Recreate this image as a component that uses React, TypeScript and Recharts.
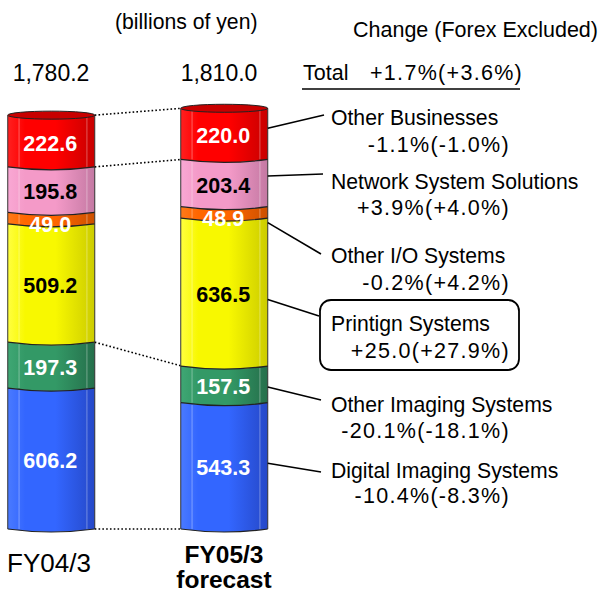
import React from "react";
import { BarChart, Bar, XAxis, YAxis } from "recharts";

// ---------- data ----------
const periods = ["FY04/3", "FY05/3"];
const periodNotes = ["", "forecast"];
const totals = [1780.2, 1810.0];
const totalLabels = ["1,780.2", "1,810.0"];
const segmentKeys = ["digital", "otherImaging", "printing", "otherIO", "network", "otherBiz"];
const segmentNames = [
  "Digital Imaging Systems",
  "Other Imaging Systems",
  "Printign Systems",
  "Other I/O Systems",
  "Network System Solutions",
  "Other Businesses",
];
const digitalImaging = [606.2, 543.3];
const otherImaging = [197.3, 157.5];
const printingSystems = [509.2, 636.5];
const otherIO = [49.0, 48.9];
const networkSolutions = [195.8, 203.4];
const otherBusinesses = [222.6, 220.0];
const segmentChanges = [
  "-10.4%(-8.3%)",
  "-20.1%(-18.1%)",
  "+25.0(+27.9%)",
  "-0.2%(+4.2%)",
  "+3.9%(+4.0%)",
  "-1.1%(-1.0%)",
];
const totalChange = "+1.7%(+3.6%)";
const unitLabel = "(billions of yen)";
const changeHeader = "Change (Forex Excluded)";

const series = [digitalImaging, otherImaging, printingSystems, otherIO, networkSolutions, otherBusinesses];

// ---------- styles / layout ----------
const FONT = "'Liberation Sans', Arial, sans-serif";
const segStyles = [
  { light: "#4a7aff", base: "#3366ff", dark: "#2548c8", text: "#ffffff" },
  { light: "#3fa774", base: "#339966", dark: "#256f4b", text: "#ffffff" },
  { light: "#ffff40", base: "#f8f800", dark: "#cccc00", text: "#000000" },
  { light: "#ff7a1a", base: "#ff6600", dark: "#cc5000", text: "#ffffff" },
  { light: "#f9a8d4", base: "#f49ac8", dark: "#c479a3", text: "#000000" },
  { light: "#ff2020", base: "#ff0000", dark: "#c80000", text: "#ffffff" },
];
const leaderFrac = [0.48, 0.57, 0.55, 1.4, 0.35, 0.39];
const leaderEnd = [
  [321, 472],
  [321, 400],
  [319, 316],
  [321, 254],
  [323, 174],
  [324, 115],
];
const nameBaselines = [478, 412, 331, 263, 189, 125];
const changeBaselines = [503, 438, 358, 290, 215, 152];

// ---------- rows ----------
const rows: any[] = [];
periods.forEach((p, i) => {
  const r: any = { name: p, total: totals[i] };
  segmentKeys.forEach((k, j) => (r[k] = series[j][i]));
  rows.push(r);
  if (i === 0) rows.push({ name: " " });
});

const cum = (col: number, upto: number) => {
  let s = 0;
  for (let j = 0; j < upto; j++) s += series[j][col];
  return s;
};

function Cylinder(props: any) {
  const { x, y, width: w, height: h, index, payload, segIdx } = props;
  if (!h || h <= 0 || w == null) return null;
  const st = segStyles[segIdx];
  const b = 3;
  const gid = `cyl-${segIdx}-${index}`;
  const body = `M${x},${y} Q${x + w / 2},${y + 2 * b} ${x + w},${y} L${x + w},${y + h} Q${x + w / 2},${y + h + 2 * b} ${x},${y + h} Z`;
  const bottomEdge = `M${x},${y + h} Q${x + w / 2},${y + h + 2 * b} ${x + w},${y + h}`;
  const value = payload[segmentKeys[segIdx]];
  const ppu = h / value;
  const col = index === 0 ? 0 : 1;
  const extras: any[] = [];

  if (col === 0) {
    const baseY = y + h + cum(0, segIdx) * ppu;
    const rx = x + 2 * w;
    const dot = (yl: number, yr: number, k: string) => (
      <line key={k} x1={x + w} y1={yl} x2={rx} y2={yr} stroke="#000" strokeWidth={1.6} strokeDasharray="1.6 2.2" />
    );
    if (segIdx === 0) extras.push(dot(y + h, baseY, "d0"));
    if (segIdx === 1 || segIdx === 4 || segIdx === 5) {
      extras.push(dot(y, baseY - cum(1, segIdx + 1) * ppu, "d" + segIdx));
    }
  } else {
    const [ex, ey] = leaderEnd[segIdx];
    extras.push(
      <line key="ld" x1={x + w} y1={y + h * leaderFrac[segIdx]} x2={ex} y2={ey} stroke="#000" strokeWidth={1.6} />
    );
  }

  const cy = y + h / 2 + 2 + (h < 20 ? 4 : 0);
  return (
    <g>
      <defs>
        <linearGradient id={gid} x1="0" y1="0" x2="1" y2="0">
          <stop offset="0%" stopColor={st.light} />
          <stop offset="20%" stopColor={st.base} />
          <stop offset="55%" stopColor={st.base} />
          <stop offset="100%" stopColor={st.dark} />
        </linearGradient>
      </defs>
      <path d={body} fill={`url(#${gid})`} stroke="none" />
      <line x1={x + w * 0.13} y1={y + 2} x2={x + w * 0.13} y2={y + h} stroke="#ffffff" strokeOpacity={0.35} strokeWidth={1} />
      <line x1={x + w * 0.91} y1={y + 2} x2={x + w * 0.91} y2={y + h} stroke="#ffffff" strokeOpacity={0.35} strokeWidth={1} />
      <line x1={x} y1={y} x2={x} y2={y + h} stroke="#333" strokeWidth={1} />
      <line x1={x + w} y1={y} x2={x + w} y2={y + h} stroke="#333" strokeWidth={1} />
      <path d={bottomEdge} fill="none" stroke="#222" strokeWidth={1.2} />
      {segIdx === 5 && (
        <ellipse cx={x + w / 2} cy={y} rx={w / 2} ry={4} fill={st.dark} stroke="#222" strokeWidth={1} />
      )}
      <text
        x={x + w / 2 - 1}
        y={cy}
        dy="0.35em"
        textAnchor="middle"
        fill={st.text}
        fontFamily={FONT}
        fontWeight="bold"
        fontSize={21.5}
      >
        {value.toFixed(1)}
      </text>
      {extras}
    </g>
  );
}

function PeriodTick(props: any) {
  const { x, y, payload } = props;
  const i = periods.indexOf(payload.value);
  if (i < 0) return null;
  if (periodNotes[i]) {
    return (
      <text x={x} y={y + 34} textAnchor="middle" fontFamily={FONT} fontWeight="bold" fontSize={24.5} fill="#000">
        <tspan x={x}>{periods[i]}</tspan>
        <tspan x={x} dy={25}>{periodNotes[i]}</tspan>
      </text>
    );
  }
  return (
    <text x={x - 2} y={y + 43} textAnchor="middle" fontFamily={FONT} fontSize={26} fill="#000">
      {periods[i]}
    </text>
  );
}

export default function App() {
  return (
    <div style={{ position: "absolute", left: 0, top: 0, width: 599, height: 594, background: "#fff" }}>
      <BarChart
        width={599}
        height={594}
        data={rows}
        margin={{ top: 64, right: 331.75, bottom: 35, left: 7.75 }}
        barCategoryGap={0}
        barGap={0}
      >
        <YAxis hide domain={[0, 2000]} />
        <XAxis
          dataKey="name"
          axisLine={false}
          tickLine={false}
          tickSize={0}
          tickMargin={0}
          interval={0}
          height={30}
          tick={<PeriodTick />}
        />
        {segmentKeys.map((k, j) => (
          <Bar
            key={k}
            dataKey={k}
            stackId="s"
            fill={segStyles[j].base}
            isAnimationActive={false}
            shape={(p: any) => <Cylinder {...p} segIdx={j} />}
          />
        ))}
      </BarChart>
      <svg
        width={599}
        height={594}
        style={{ position: "absolute", left: 0, top: 0, pointerEvents: "none" }}
        fontFamily={FONT}
      >
        <text x={115} y={29} fontSize={21.2} fill="#000">{unitLabel}</text>
        <text x={51} y={81} fontSize={23} textAnchor="middle" fill="#000">{totalLabels[0]}</text>
        <text x={219} y={81} fontSize={23} textAnchor="middle" fill="#000">{totalLabels[1]}</text>
        <text x={353} y={37} fontSize={21.5} fill="#000">{changeHeader}</text>
        <text x={303} y={80} fontSize={21.5} fill="#000">Total</text>
        <text x={370} y={80} fontSize={21.5} letterSpacing={1.3} fill="#000">{totalChange}</text>
        <line x1={302} y1={89} x2={520} y2={89} stroke="#000" strokeWidth={1.6} />
        <rect x={320} y={300} width={199} height={70} rx={11} fill="none" stroke="#000" strokeWidth={1.8} />
        {segmentNames.map((n, j) => (
          <g key={n}>
            <text x={331} y={nameBaselines[j]} fontSize={21.2} fill="#000">{n}</text>
            <text x={510} y={changeBaselines[j]} fontSize={21.5} letterSpacing={1.3} textAnchor="end" fill="#000">
              {segmentChanges[j]}
            </text>
          </g>
        ))}
      </svg>
    </div>
  );
}
